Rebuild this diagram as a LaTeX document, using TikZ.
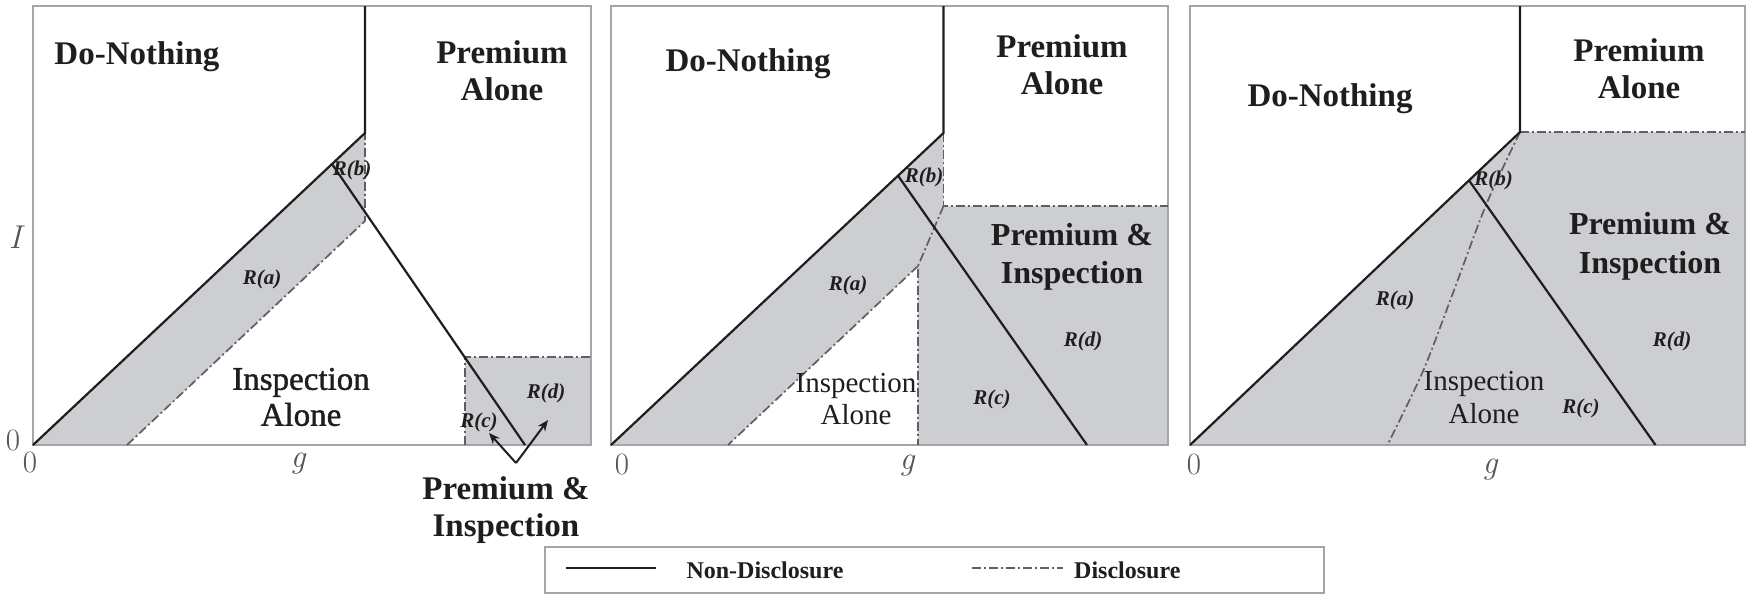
\documentclass[tikz,border=0pt]{standalone}
\usepackage{fontspec}
\setmainfont{Liberation Serif}
\newfontfamily\semib[FakeBold=1.2]{Liberation Serif}
\newfontfamily\lmr{Latin Modern Roman}
\usetikzlibrary{arrows.meta}
\definecolor{shadegray}{RGB}{205,206,209}
\definecolor{framegray}{RGB}{165,165,165}
\definecolor{txt}{RGB}{30,30,30}
\definecolor{ddgray}{RGB}{95,95,95}
\definecolor{axgray}{RGB}{85,85,85}
\begin{document}
\begin{tikzpicture}[x=1pt,y=-1pt,
  frame/.style={draw=framegray,line width=1.8pt},
  nd/.style={draw=txt,line width=2.2pt},
  dd/.style={draw=ddgray,line width=1.7pt,dash pattern=on 9pt off 3pt on 2pt off 3pt},
  big/.style={font=\bfseries\fontsize{33}{37}\selectfont,text=txt,align=center,inner sep=0pt},
  ins/.style={font=\semib\fontsize{33}{36}\selectfont,text=txt,align=center,inner sep=0pt},
  insm/.style={font=\fontsize{29}{32}\selectfont,text=txt,align=center,inner sep=0pt},
  reg/.style={font=\bfseries\itshape\fontsize{21}{24}\selectfont,text=txt,inner sep=0pt},
  ax/.style={font=\lmr\fontsize{31}{33}\selectfont,text=axgray,inner sep=0pt},
  axi/.style={font=\lmr\itshape\fontsize{33}{35}\selectfont,text=axgray,inner sep=0pt},
  leg/.style={font=\bfseries\fontsize{24}{26}\selectfont,text=txt,inner sep=0pt},
  arr/.style={draw=txt,line width=2pt,-{Stealth[length=11pt,width=9pt]}}
]
\useasboundingbox (0,0) rectangle (1752,606);
\fill[white] (0,0) rectangle (1752,606);

% ---------------- Panel 1 ----------------
\coordinate (O1) at (33,445);
\coordinate (T1) at (365,6);
\coordinate (K1) at (365,133);
\coordinate (C1) at (332,164);
\coordinate (B1) at (525,445);
\coordinate (M1) at (365,221);
\coordinate (L1) at (127,445);
\coordinate (P1) at (465,357);
\coordinate (Q1) at (465,445);
\coordinate (R1) at (591,357);
\coordinate (S1) at (591,445);
\fill[shadegray] (O1) -- (K1) -- (M1) -- (L1) -- cycle;
\fill[shadegray] (P1) rectangle (S1);
\draw[frame] (33,6) rectangle (591,445);
\draw[dd] (L1) -- (M1) -- (K1);
\draw[dd] (Q1) -- (P1) -- (R1);
\draw[nd] (O1) -- (K1) -- (T1);
\draw[nd] (C1) -- (B1);

\node[big,anchor=base] (dn1) at (137,64) {Do-Nothing};
\node[big] (pa1) at (502,70.5) {Premium\\Alone};
\node[ins] (ia1) at (301,397) {Inspection\\Alone};
\node[reg] (ra1) at (262,279) {R(a)};
\node[reg] (rb1) at (352,170) {R(b)};
\node[reg] (rc1) at (479,422) {R(c)};
\node[reg] (rd1) at (546,393) {R(d)};
\node[big] (pi1) at (506,510) {Premium \&\\Inspection};
\coordinate (ab1) at (516,463);
\coordinate (at1) at (489,433);
\coordinate (at2) at (548,420);
\draw[arr] (ab1) -- (at1);
\draw[arr] (ab1) -- (at2);
\node[axi] (iy1) at (15,237) {I};
\node[ax] (zy1) at (13,440) {0};
\node[ax] (zx1) at (30,462) {0};
\node[axi] (gx1) at (298,464) {g};

% ---------------- Panel 2 ----------------
\coordinate (O2) at (611,445);
\coordinate (T2) at (943.5,6);
\coordinate (K2) at (943.5,133);
\coordinate (C2) at (898,175.7);
\coordinate (B2) at (1087,445);
\coordinate (H2) at (943.5,206);
\coordinate (HR2) at (1168,206);
\coordinate (V2) at (918,266);
\coordinate (VB2) at (918,445);
\coordinate (L2) at (728,445);
\coordinate (S2) at (1168,445);
\fill[shadegray] (O2) -- (K2) -- (H2) -- (HR2) -- (S2) -- (VB2) -- (V2) -- (L2) -- cycle;
\draw[frame] (611,6) rectangle (1168,445);
\draw[dd] (K2) -- (H2) -- (HR2);
\draw[dd] (H2) -- (V2) -- (VB2);
\draw[dd] (V2) -- (L2);
\draw[nd] (O2) -- (K2) -- (T2);
\draw[nd] (C2) -- (B2);

\node[big,anchor=base] (dn2) at (748,71) {Do-Nothing};
\node[big] (pa2) at (1062,64.8) {Premium\\Alone};
\node[big,font=\bfseries\fontsize{32}{38}\selectfont] (pi2) at (1072,256.5) {Premium \&\\Inspection};
\node[insm] (ia2) at (856,399) {Inspection\\Alone};
\node[reg] (ra2) at (848,285) {R(a)};
\node[reg] (rb2) at (924,177) {R(b)};
\node[reg] (rc2) at (992,399) {R(c)};
\node[reg] (rd2) at (1083,341) {R(d)};
\node[ax] (zx2) at (622,464) {0};
\node[axi] (gx2) at (907,466) {g};

% ---------------- Panel 3 ----------------
\coordinate (O3) at (1190,445);
\coordinate (T3) at (1520,6);
\coordinate (K3) at (1520,132);
\coordinate (C3) at (1469,180.4);
\coordinate (B3) at (1655.5,445);
\coordinate (HR3) at (1745,132);
\coordinate (S3) at (1745,445);
\fill[shadegray] (O3) -- (K3) -- (HR3) -- (S3) -- cycle;
\draw[frame] (1190,6) rectangle (1745,445);
\draw[dd] (K3) -- (HR3);
\draw[dd] plot[smooth] coordinates {(1520,132) (1486,205) (1452.6,294) (1422.8,371.6) (1387.4,445)};
\draw[nd] (O3) -- (K3) -- (T3);
\draw[nd] (C3) -- (B3);

\node[big,anchor=base] (dn3) at (1330,106.6) {Do-Nothing};
\node[big] (pa3) at (1639,68.4) {Premium\\Alone};
\node[big,font=\bfseries\fontsize{32}{39}\selectfont] (pi3) at (1650,246) {Premium \&\\Inspection};
\node[insm,font=\fontsize{29}{33}\selectfont] (ia3) at (1484,397.5) {Inspection\\Alone};
\node[reg] (ra3) at (1395,300) {R(a)};
\node[reg] (rb3) at (1493.5,180) {R(b)};
\node[reg] (rc3) at (1581,408) {R(c)};
\node[reg] (rd3) at (1672,341) {R(d)};
\node[ax] (zx3) at (1194,464) {0};
\node[axi] (gx3) at (1490,470) {g};

% ---------------- Legend ----------------
\draw[frame] (545,547) rectangle (1324,593);
\coordinate (ls1) at (566,568);
\coordinate (ls2) at (656,568);
\coordinate (ld1) at (972,568);
\coordinate (ld2) at (1063,568);
\draw[nd] (ls1) -- (ls2);
\draw[dd] (ld1) -- (ld2);
\node[leg] (lnd) at (765,570) {Non-Disclosure};
\node[leg,anchor=west] (ldd) at (1074,570) {Disclosure};
\end{tikzpicture}
\end{document}
